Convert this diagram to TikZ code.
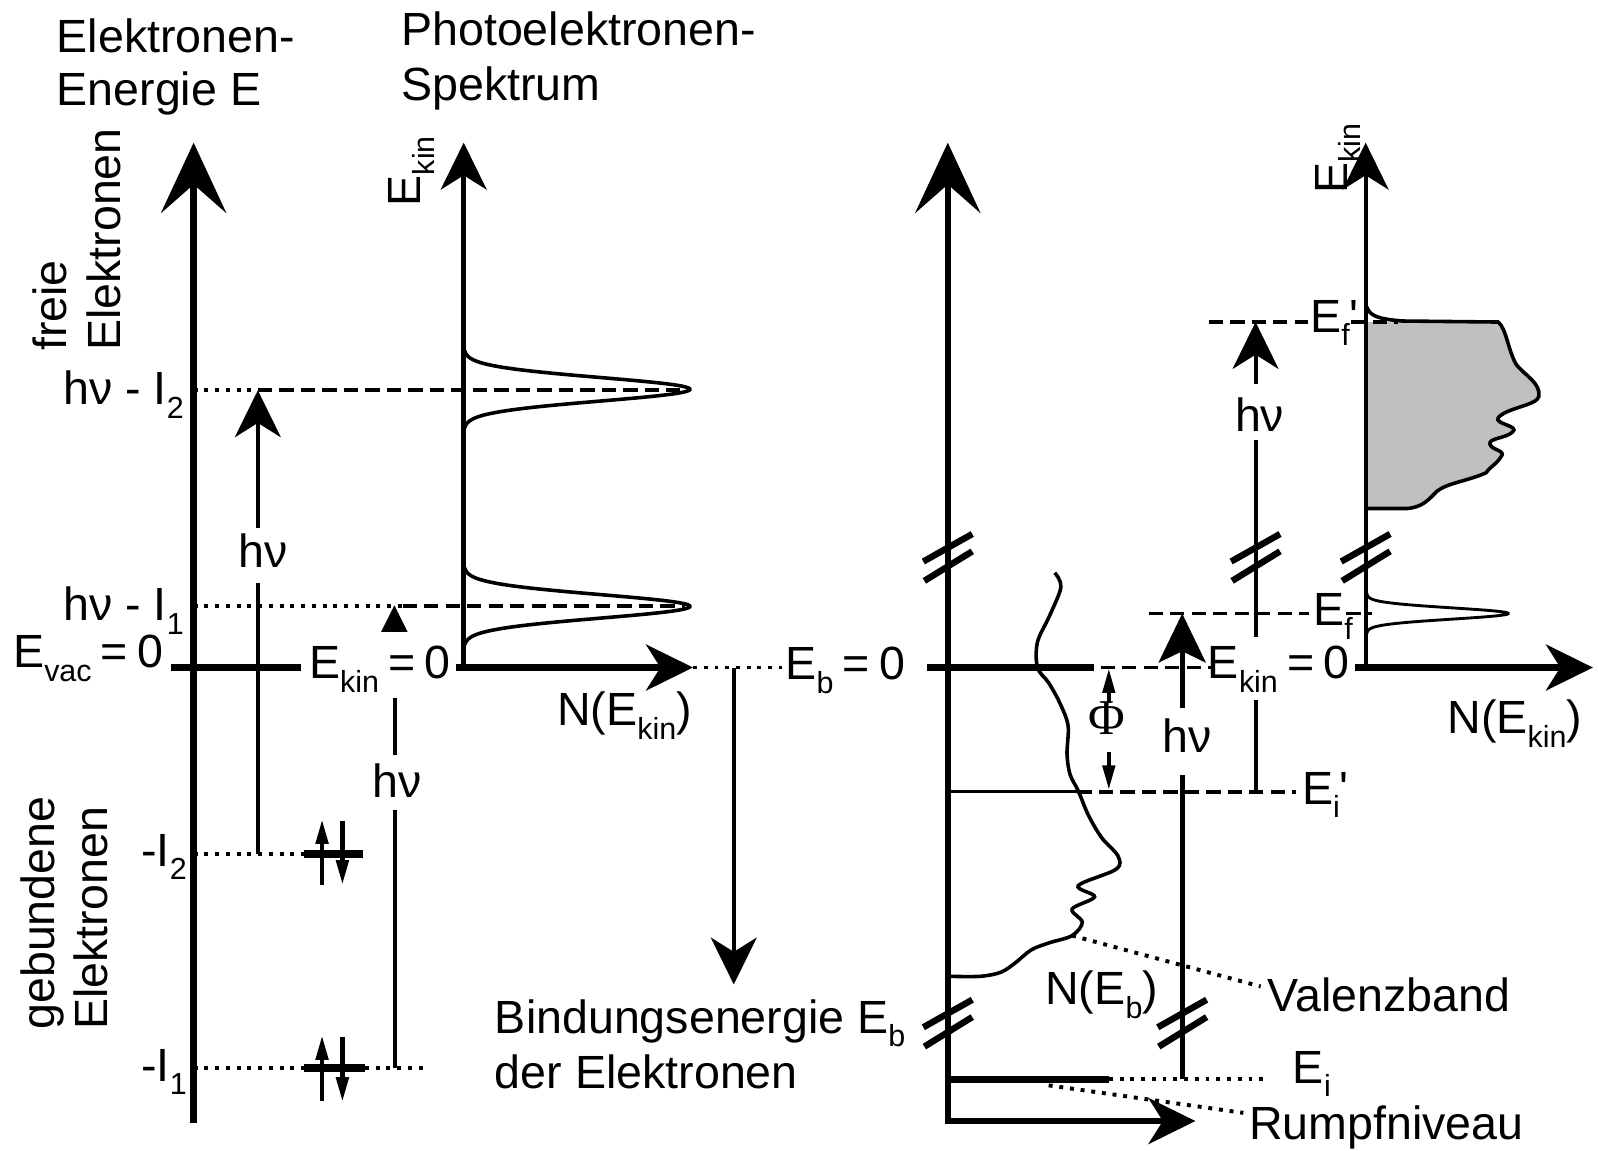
\documentclass[tikz,border=0pt]{standalone}
\usepackage{fontspec}
\setmainfont{Liberation Sans}
\newfontfamily\phifont{Liberation Serif}
\usetikzlibrary{arrows.meta}
\newcommand\lo[1]{\raisebox{-0.55ex}{\fontsize{8.5pt}{9pt}\selectfont #1}}
\newcommand\eqz{\hspace{0.2em}=\hspace{0.2em}0}
\definecolor{specgray}{RGB}{192,192,192}
\begin{document}
\begin{tikzpicture}[x=0.1mm, y=-0.1mm,
  every node/.style={inner sep=0pt, font=\fontsize{13pt}{15.5pt}\selectfont},
  thickln/.style={line width=1.8pt},
  specax/.style={line width=1.4pt},
  medln/.style={line width=1.1pt},
  thinln/.style={line width=0.9pt},
  levelln/.style={line width=2pt},
  curveln/.style={line width=1pt},
  dotln/.style={line width=1.1pt, dash pattern=on 1.1pt off 1.9pt},
  dashln/.style={line width=1.1pt, dash pattern=on 4pt off 2pt},
  bighead/.style={-{Stealth[length=6.9mm,width=6.4mm,inset=2.8mm]}},
  smallhead/.style={-{Stealth[length=4.6mm,width=4.5mm,inset=1.4mm]}},
  fathead/.style={-{Stealth[length=4.8mm,width=4.6mm,inset=1.1mm]}},
  tinyhead/.style={-{Triangle[length=2.4mm,width=1.2mm]}},
  brk/.pic={
    \draw[line width=1.8pt] (-24,4) -- (24,-23);
    \draw[line width=1.8pt] (-23,23) -- (24,-6);
  }
]
\useasboundingbox (0,0) rectangle (1568,1129);
\fill[white] (0,0) rectangle (1568,1129);

% ---------------- titles ----------------
\node[anchor=base west] (t1a) at (55,52) {Elektronen-};
\node[anchor=base west] (t1b) at (55,104) {Energie E};
\node[anchor=base west] (t2a) at (393,45) {Photoelektronen-};
\node[anchor=base west] (t2b) at (393,99) {Spektrum};

\node[rotate=90, anchor=base west] (fr1) at (65,345) {freie};
\node[rotate=90, anchor=base west] (fr2) at (118,345) {Elektronen};
\node[rotate=90, anchor=base west] (gb1) at (53,1011) {gebundene};
\node[rotate=90, anchor=base west] (gb2) at (105,1011) {Elektronen};

% ---------------- left panel ----------------
\coordinate (axLb) at (190,1102);
\coordinate (axLt) at (190,140);
\draw[thickln, bighead] (axLb) -- (axLt);

% levels
\draw[dotln] (190,383) -- (253,383);
\draw[dashln] (253,383) -- (672,383);
\draw[dotln] (190,595) -- (395,595);
\draw[dashln] (395,595) -- (672,595);
\draw[dotln] (190,838) -- (298,838);
\draw[levelln] (298,838) -- (356,838);
\draw[dotln] (190,1048) -- (298,1048);
\draw[levelln] (298,1048) -- (358,1048);
\draw[dotln] (358,1048) -- (420,1048);

\node[anchor=base east] (lI2) at (181,397) {hν - I\lo{2}};
\node[anchor=base east] (lI1) at (181,609) {hν - I\lo{1}};
\node[anchor=base east] (lvac) at (161,655) {E\lo{vac}\eqz};
\node[anchor=base east] (lm2) at (184,850) {-I\lo{2}};
\node[anchor=base east] (lm1) at (184,1061) {-I\lo{1}};

% vacuum level
\draw[thickln] (168,655) -- (295,655);
\node[anchor=base east] (ekin0) at (443,666) {E\lo{kin}\eqz};

% spins
\draw[line width=1.2pt, tinyhead] (316,868) -- (316,804);
\draw[line width=1.2pt, tinyhead] (336,806) -- (336,868);
\draw[line width=1.2pt, tinyhead] (316,1080) -- (316,1016);
\draw[line width=1.2pt, tinyhead] (336,1018) -- (336,1081);

% h nu arrow 1 (from -I2)
\node[anchor=base] (hv1) at (258,557) {hν};
\draw[medln] (253,838) -- (253,572);
\draw[medln, smallhead] (253,518) -- (253,383);

% h nu arrow 2 (from -I1)
\node[anchor=base] (hv2) at (390,783) {hν};
\draw[medln] (388,1048) -- (388,795);
\draw[medln] (388,741) -- (388,685);
\fill (387,594) -- (374,620) -- (400,620) -- cycle;

% spectrum axes
\draw[specax, smallhead] (455,657) -- (455,140);
\draw[thickln, smallhead] (447,655) -- (680,655);
\node[rotate=90, anchor=base west] (ekinL) at (413,203) {E\lo{kin}};
\node[anchor=base west] (nekL) at (546,712) {N(E\lo{kin})};

% peaks
\draw[curveln] plot[domain=-38:38, samples=120, smooth]
  ({455+222*exp(-0.5*((\x/11.5)^2))}, {382+\x});
\draw[curveln] plot[domain=-38:38, samples=120, smooth]
  ({455+222*exp(-0.5*((\x/11.5)^2))}, {595+\x});

% binding energy
\draw[dotln] (680,655) -- (767,655);
\node[anchor=base west] (eb0) at (770,667) {E\lo{b}\eqz};
\draw[medln, smallhead] (720,655) -- (720,966);
\node[anchor=base west] (bind1) at (485,1014) {Bindungsenergie E\lo{b}};
\node[anchor=base west] (bind2) at (485,1068) {der Elektronen};

% ---------------- right panel ----------------
\draw[thickln, {Stealth[length=4.6mm,width=4.5mm,inset=1.4mm]}-{Stealth[length=6.9mm,width=6.4mm,inset=2.8mm]}]
  (1173,1100) -- (930,1100) -- (930,140);
\pic at (930,547) {brk};
\pic at (930,1004) {brk};

% E_b = 0 line
\draw[thickln] (910,655) -- (1073,655);
\draw[dashln] (1080,655) -- (1190,655);
\node[anchor=base east] (ekin0R) at (1325,666) {E\lo{kin}\eqz};

% valence band DOS
\draw[curveln] plot[smooth, tension=0.55] coordinates {
 (1035,562) (1041,576) (1030,604) (1018,630) (1018,655) (1029,670)
 (1040,690) (1048,712) (1047,740) (1050,760) (1058,776) (1068,800)
 (1081,822) (1097,840) (1095,853) (1058,869) (1074,880) (1052,892)
 (1062,905) (1052,918) (1030,925) (1012,932) (996,945) (982,954)
 (962,958) (932,958)};
\coordinate (vbpt) at (1052,918);
\node[anchor=base west] (valenz) at (1243,993) {Valenzband};
\coordinate (vbend) at (1237,968);
\draw[dotln] (vbpt) -- (vbend);
\node[anchor=base west] (nEb) at (1025,986) {N(E\lo{b})};

% E_i' level
\draw[thinln] (930,777) -- (1057,777);
\draw[dashln] (1057,777) -- (1272,777);
\node[anchor=base west] (eip) at (1277,789) {E\lo{i}\textquotesingle};

% Phi
\node (phi) at (1086,705) {\phifont\fontsize{14pt}{14pt}\selectfont Φ};
\draw[medln, tinyhead] (1088,690) -- (1088,656);
\draw[medln, tinyhead] (1088,738) -- (1088,775);

% core level
\draw[levelln] (930,1059) -- (1088,1059);
\draw[dotln] (1088,1059) -- (1240,1059);
\node[anchor=base west] (ei) at (1268,1063) {E\lo{i}};
\coordinate (rnpt) at (1029,1065);
\node[anchor=base west] (rumpf) at (1225,1118) {Rumpfniveau};
\coordinate (rnend) at (1220,1092);
\draw[dotln] (rnpt) -- (rnend);

% big h nu arrow
\draw[line width=1.5pt] (1160,1059) -- (1160,760);
\pic at (1160,1004) {brk};
\node[anchor=base] (hvR) at (1165,738) {hν};
\draw[line width=1.5pt, fathead] (1160,695) -- (1160,602);

% E_f level
\draw[dashln] (1127,602) -- (1284,602);
\node[anchor=base west] (ef) at (1288,614) {E\lo{f}};
\draw[dashln] (1321,602) -- (1346,602);

% thin h nu arrow
\draw[medln] (1232,777) -- (1232,687);
\draw[medln] (1232,625) -- (1232,432);
\pic at (1232,547) {brk};
\node[anchor=base] (hvR2) at (1236,423) {hν};
\draw[medln, smallhead] (1232,377) -- (1232,316);

% E_f' level
\draw[dashln] (1186,316) -- (1283,316);
\node[anchor=base west] (efp) at (1285,326) {E\lo{f}\textquotesingle};

% right spectrum
\fill[specgray] (1341,316) -- (1470,316)
  .. controls (1478,322) and (1480,345) .. (1488,358)
  .. controls (1496,368) and (1512,376) .. (1510,389)
  .. controls (1508,398) and (1478,400) .. (1470,410)
  .. controls (1466,416) and (1492,418) .. (1484,424)
  .. controls (1478,430) and (1460,430) .. (1462,436)
  .. controls (1464,442) and (1478,442) .. (1473,448)
  .. controls (1468,456) and (1462,458) .. (1458,464)
  .. controls (1440,472) and (1420,474) .. (1410,482)
  .. controls (1402,490) and (1396,498) .. (1380,499)
  -- (1341,499) -- cycle;
\draw[curveln] (1341,301) .. controls (1344,310) and (1352,313) .. (1376,315)
  -- (1470,316)
  .. controls (1478,322) and (1480,345) .. (1488,358)
  .. controls (1496,368) and (1512,376) .. (1510,389)
  .. controls (1508,398) and (1478,400) .. (1470,410)
  .. controls (1466,416) and (1492,418) .. (1484,424)
  .. controls (1478,430) and (1460,430) .. (1462,436)
  .. controls (1464,442) and (1478,442) .. (1473,448)
  .. controls (1468,456) and (1462,458) .. (1458,464)
  .. controls (1440,472) and (1420,474) .. (1410,482)
  .. controls (1402,490) and (1396,498) .. (1380,499)
  -- (1341,499);
\draw[dashln] (1326,316) -- (1372,316);

\draw[medln, smallhead] (1340,655) -- (1340,140);
\pic at (1340,547) {brk};
\draw[thickln, smallhead] (1330,655) -- (1563,655);
\node[rotate=90, anchor=base west] (ekinR) at (1322,191) {E\lo{kin}};
\node[anchor=base east] (nekR) at (1553,720) {N(E\lo{kin})};

% small peak at E_f
\draw[line width=0.8pt] plot[domain=-20:20, samples=100, smooth]
  ({1341+139*exp(-0.5*((\x/5.5)^2))}, {602+\x});
\end{tikzpicture}
\end{document}
